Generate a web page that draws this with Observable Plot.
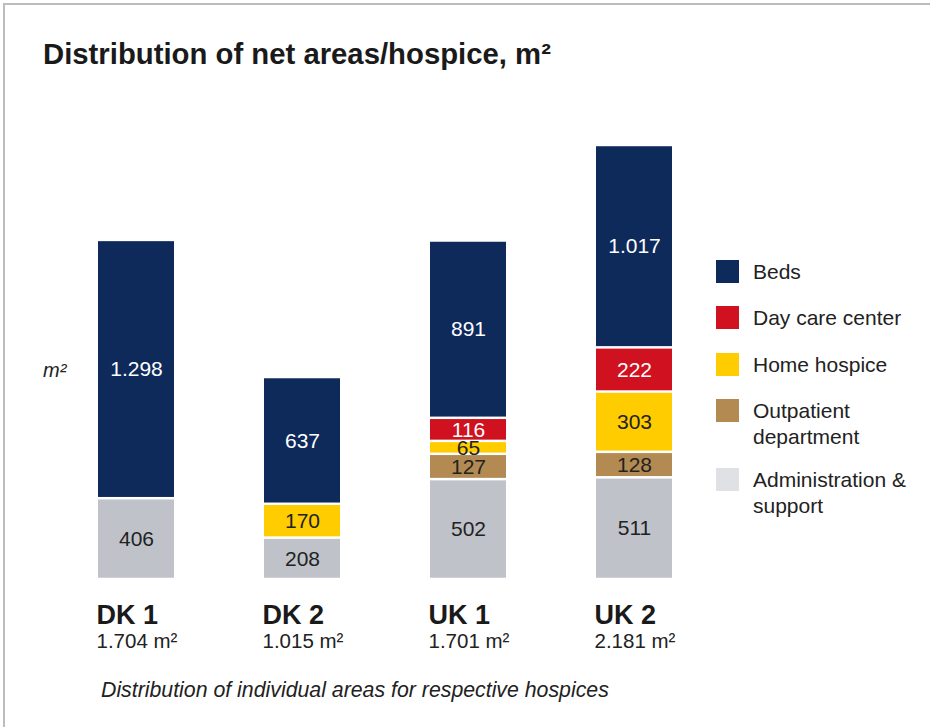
<!DOCTYPE html>
<html>
<head>
<meta charset="utf-8">
<script src="https://cdn.jsdelivr.net/npm/d3@7"></script>
<script src="https://cdn.jsdelivr.net/npm/@observablehq/plot@0.6"></script>
<style>
  html, body { margin: 0; padding: 0; background: #fff; overflow: hidden; }
  body { width: 930px; height: 727px; position: relative; font-family: "Liberation Sans", Arial, sans-serif; color: #222; }
  #frame { position: absolute; left: 3px; top: 3px; width: 1000px; height: 1000px; border-top: 2px solid #bdbdbd; border-left: 2px solid #bdbdbd; }
  #chart { position: absolute; left: 0; top: 0; }
  #title { position: absolute; left: 43px; top: 39px; font-size: 29.3px; font-weight: bold; line-height: 1; color: #1a1a1a; white-space: nowrap; }
  #unit { position: absolute; left: 43px; top: 360px; font-size: 20px; font-style: italic; line-height: 1; }
  #caption { position: absolute; left: 101px; top: 680px; font-size: 21.3px; font-style: italic; line-height: 1; white-space: nowrap; }
  #legend { position: absolute; left: 716px; top: 260px; display: flex; flex-direction: column; gap: 21.3px; }
  .item { display: flex; align-items: flex-start; }
  .sw { width: 23px; height: 23px; flex: none; }
  .lab { margin-left: 14px; font-size: 21px; line-height: 26px; margin-top: -1px; max-width: 165px; }
  .item.two { margin-bottom: -3px; }
</style>
</head>
<body>
<div id="frame"></div>
<div id="chart"></div>
<div id="title">Distribution of net areas/hospice, m²</div>
<div id="unit">m²</div>
<div id="legend"></div>
<div id="caption">Distribution of individual areas for respective hospices</div>
<script>
// Data
const hospices = ["DK 1", "DK 2", "UK 1", "UK 2"];
const totals = [1704, 1015, 1701, 2181];
const beds = [1298, 637, 891, 1017];
const dayCare = [0, 0, 116, 222];
const homeHospice = [0, 170, 65, 303];
const outpatient = [0, 0, 127, 128];
const admin = [406, 208, 502, 511];

// Stack order, bottom to top
const segments = ["Administration & support", "Outpatient department", "Home hospice", "Day care center", "Beds"];
const segmentValues = [admin, outpatient, homeHospice, dayCare, beds];
const segmentColors = ["#bfc3c9", "#b38a52", "#ffcc00", "#d0111f", "#0e2a5b"];
const legendColors = ["#e0e1e5", "#b38a52", "#ffcc00", "#d0111f", "#0e2a5b"];
const lightText = ["Day care center", "Beds"];

const fmt = d3.formatLocale({decimal: ",", thousands: ".", grouping: [3], currency: ["", ""]}).format(",");

const rows = [];
segments.forEach((s, si) => {
  hospices.forEach((h, hi) => {
    const v = segmentValues[si][hi];
    if (v > 0) rows.push({hospice: h, segment: s, value: v});
  });
});
const totalRows = hospices.map((h, i) => ({hospice: h, total: totals[i], base: 0}));

const stackOpts = {x: "hospice", y: "value", z: "segment", order: segments};

const chart = Plot.plot({
  width: 930,
  height: 727,
  marginTop: 0, marginRight: 0, marginBottom: 0, marginLeft: 0,
  style: {fontFamily: "'Liberation Sans', Arial, sans-serif", background: "transparent", overflow: "visible"},
  x: {type: "band", domain: hospices, range: [97, 673], paddingInner: 0.542, paddingOuter: 0, axis: null},
  y: {domain: [0, 2500], range: [579, 81.5], axis: null},
  color: {domain: segments, range: segmentColors},
  marks: [
    Plot.barY(rows, Plot.stackY({...stackOpts, fill: "segment", insetTop: 1.25, insetBottom: 1.25})),
    Plot.text(rows, Plot.stackY({...stackOpts, text: d => lightText.includes(d.segment) ? fmt(d.value) : null, fill: "white", fontSize: 21})),
    Plot.text(rows, Plot.stackY({...stackOpts, text: d => lightText.includes(d.segment) ? null : fmt(d.value), fill: "#222", fontSize: 21})),
    Plot.text(totalRows, {x: "hospice", y: "base", text: "hospice", textAnchor: "start", lineAnchor: "bottom", dx: -40, dy: 44, fontSize: 27, fontWeight: "bold", fill: "#1a1a1a"}),
    Plot.text(totalRows, {x: "hospice", y: "base", text: d => fmt(d.total) + " m²", textAnchor: "start", lineAnchor: "bottom", dx: -40, dy: 68, fontSize: 20.5, fill: "#222"})
  ]
});
document.getElementById("chart").appendChild(chart);

// Legend (top to bottom: reverse of stack order)
const legend = document.getElementById("legend");
segments.map((s, i) => ({s, c: legendColors[i]})).reverse().forEach(({s, c}) => {
  const item = document.createElement("div");
  item.className = "item" + (s === "Outpatient department" ? " two" : "");
  const sw = document.createElement("div");
  sw.className = "sw";
  sw.style.background = c;
  const lab = document.createElement("div");
  lab.className = "lab";
  lab.textContent = s;
  item.appendChild(sw);
  item.appendChild(lab);
  legend.appendChild(item);
});
</script>
</body>
</html>
